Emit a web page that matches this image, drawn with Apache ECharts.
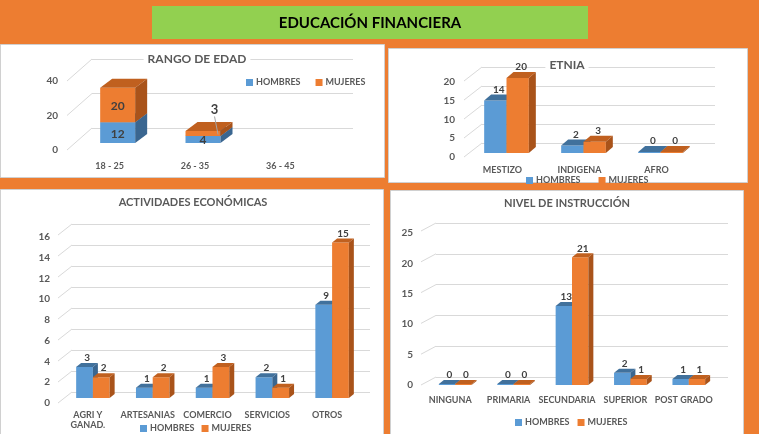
<!DOCTYPE html>
<html>
<head>
<meta charset="utf-8">
<title>Educación financiera</title>
<script src="https://cdn.jsdelivr.net/npm/echarts@6/dist/echarts.min.js"></script>
<style>
  html, body { margin: 0; padding: 0; background: #ED7D31; }
  #main { width: 759px; height: 434px; }
</style>
</head>
<body>
<div id="main"></div>
<script>
// datos de cada cuadro
var edadCats = ['18 - 25', '26 - 35', '36 - 45'];
var edadHombres = [12, 4, 0];
var edadMujeres = [20, 3, 0];
var edadTicks = [0, 20, 40];

var etniaCats = ['MESTIZO', 'INDIGENA', 'AFRO'];
var etniaHombres = [14, 2, 0];
var etniaMujeres = [20, 3, 0];
var etniaTicks = [0, 5, 10, 15, 20];

var actCats = ['AGRI Y\nGANAD.', 'ARTESANIAS', 'COMERCIO', 'SERVICIOS', 'OTROS'];
var actHombres = [3, 1, 1, 2, 9];
var actMujeres = [2, 2, 3, 1, 15];
var actTicks = [0, 2, 4, 6, 8, 10, 12, 14, 16];

var nivelCats = ['NINGUNA', 'PRIMARIA', 'SECUNDARIA', 'SUPERIOR', 'POST GRADO'];
var nivelHombres = [0, 0, 13, 2, 1];
var nivelMujeres = [0, 0, 21, 1, 1];
var nivelTicks = [0, 5, 10, 15, 20, 25];

var FONT = 'Lato, "Open Sans", sans-serif';
var GRIS = '#595959';
var COLORES = [
    { front: '#5B9BD5', top: '#41719C', side: '#3A6690' },
    { front: '#ED7D31', top: '#C0601F', side: '#A9531A' }
];

// posiciones y estilos de los cuatro cuadros
var panels = [
    {
        title: 'RANGO DE EDAD', cats: edadCats, h: edadHombres, m: edadMujeres, ticks: edadTicks, stacked: true,
        box: [0, 44, 384, 133], grid: { left: 67, top: 74, width: 256, height: 69 },
        wall: { left: 92, top: 59, width: 261, height: 69 },
        ly: 7, shift: 8, ratio: 0.41, depth: [12, 9], titlePos: [197, 59], titleSize: 12,
        legend: { left: 241, top: 73, gap: 15 }, catMargin: 18, labelMargin: 9
    },
    {
        title: 'ETNIA', cats: etniaCats, h: etniaHombres, m: etniaMujeres, ticks: etniaTicks, stacked: false,
        box: [388, 48, 359, 134], grid: { left: 464, top: 78, width: 231, height: 75 },
        wall: { left: 482, top: 67, width: 233, height: 76 },
        ly: 4, shift: 4, ratio: 0.29, depth: [7, 6], titlePos: [567, 65], titleSize: 12,
        legend: { left: 521, top: 171, gap: 18 }, catMargin: 12, labelMargin: 9
    },
    {
        title: 'ACTIVIDADES ECONÓMICAS', cats: actCats, h: actHombres, m: actMujeres, ticks: actTicks, stacked: false,
        box: [0, 189, 383, 245], grid: { left: 58, top: 232, width: 299, height: 166 },
        wall: { left: 72, top: 224, width: 298, height: 168 },
        ly: 5, shift: 5, ratio: 0.28, depth: [5, 4], titlePos: [193, 202], titleSize: 11,
        legend: { left: 135, top: 419, gap: 7 }, catMargin: 12, labelMargin: 8
    },
    {
        title: 'NIVEL DE INSTRUCCIÓN', cats: nivelCats, h: nivelHombres, m: nivelMujeres, ticks: nivelTicks, stacked: false,
        box: [390, 190, 353, 244], grid: { left: 421, top: 233, width: 292, height: 152 },
        wall: { left: 436, top: 223, width: 292, height: 154 },
        ly: 0, shift: 5, ratio: 0.28, depth: [5, 4], titlePos: [567, 203], titleSize: 11,
        legend: { left: 510, top: 413, gap: 8 }, catMargin: 10, labelMargin: 8
    }
];

function barRenderer(p, which) {
    return function (params, api) {
        var cat = api.value(0);
        var val = api.value(1);
        var base = (p.stacked && which === 1) ? api.value(2) : 0;
        if (p.stacked && val === 0 && base === 0) return;
        var b = api.coord([cat, base]);
        var t = api.coord([cat, base + val]);
        var band = api.size([1, 0])[0];
        var w = band * p.ratio;
        var x = b[0] + p.shift + (p.stacked ? -w / 2 : (which === 0 ? -w : 0));
        var dx = p.depth[0], dy = p.depth[1];
        var bot = b[1];
        var top = Math.min(t[1], bot - 1);
        var c = COLORES[which];
        var children = [
            { type: 'rect', shape: { x: x, y: top, width: w, height: bot - top }, style: { fill: c.front } },
            { type: 'polygon', shape: { points: [[x, top], [x + dx, top - dy], [x + w + dx, top - dy], [x + w, top]] }, style: { fill: c.top } },
            { type: 'polygon', shape: { points: [[x + w, top], [x + w + dx, top - dy], [x + w + dx, bot - dy], [x + w, bot]] }, style: { fill: c.side } }
        ];
        if (p.stacked) {
            var cy = (top + bot) / 2;
            if (which === 1 && bot - top < 12) {
                // etiqueta pequeña con línea guía
                children.push({ type: 'line', shape: { x1: x + w * 0.83, y1: cy - 17, x2: x + w * 0.93, y2: cy + 1 }, style: { stroke: '#A6A6A6', lineWidth: 1 } });
                children.push({ type: 'text', style: { text: String(val), x: x + w * 0.83, y: cy - 17, textAlign: 'center', textVerticalAlign: 'bottom', font: 'bold 13px ' + FONT, fill: '#404040' } });
            } else {
                children.push({ type: 'text', style: { text: String(val), x: x + w / 2, y: cy + 1, textAlign: 'center', textVerticalAlign: 'middle', font: 'bold 12px ' + FONT, fill: '#404040' } });
            }
        } else {
            children.push({ type: 'text', style: { text: String(val), x: x + w / 2 + dx / 2, y: top - dy, textAlign: 'center', textVerticalAlign: 'bottom', font: 'bold 10px ' + FONT, fill: '#404040' } });
        }
        return { type: 'group', children: children };
    };
}

function diagRenderer(p) {
    var ddx = p.wall.left - p.grid.left;
    var ddy = (p.grid.top + p.grid.height) - (p.wall.top + p.wall.height) + p.ly;
    return function (params, api) {
        var q = api.coord([0, api.value(0)]);
        return { type: 'line', shape: { x1: q[0], y1: q[1], x2: q[0] - ddx, y2: q[1] + ddy }, style: { stroke: '#D9D9D9', lineWidth: 1 } };
    };
}

var myChart = echarts.init(document.getElementById('main'));

var grids = [], xAxes = [], yAxes = [], series = [], legends = [], graphics = [];

// recuadro verde del título
graphics.push({ type: 'rect', z: -1, shape: { x: 152, y: 6, width: 436, height: 33 }, style: { fill: '#92D050' } });
graphics.push({ type: 'text', z: 10, style: { text: 'EDUCACIÓN FINANCIERA', x: 370, y: 23, textAlign: 'center', textVerticalAlign: 'middle', font: 'bold 15px ' + FONT, fill: '#000' } });

panels.forEach(function (p, i) {
    graphics.push({ type: 'rect', z: -1, shape: { x: p.box[0] + 0.5, y: p.box[1] + 0.5, width: p.box[2], height: p.box[3] }, style: { fill: '#fff', stroke: '#D0D0D0', lineWidth: 1 } });
    graphics.push({ type: 'text', z: 10, style: { text: p.title, x: p.titlePos[0], y: p.titlePos[1], textAlign: 'center', textVerticalAlign: 'middle', font: 'bold ' + p.titleSize + 'px ' + FONT, fill: GRIS, backgroundColor: '#fff', padding: [1, 4] } });

    var max = p.ticks[p.ticks.length - 1];
    var interval = p.ticks[1] - p.ticks[0];

    // rejilla de las barras
    grids.push({ left: p.grid.left, top: p.grid.top, width: p.grid.width, height: p.grid.height });
    xAxes.push({
        type: 'category', gridIndex: i, data: p.cats,
        axisLine: { show: false }, axisTick: { show: false },
        axisLabel: { margin: p.catMargin, fontFamily: FONT, fontWeight: 'bold', fontSize: 9, color: GRIS, lineHeight: 10, interval: 0 }
    });
    yAxes.push({
        type: 'value', gridIndex: i, min: p.ticks[0], max: max, interval: interval,
        splitLine: { show: false }, axisLine: { show: false }, axisTick: { show: false }, axisLabel: { show: false }
    });

    series.push({
        name: 'HOMBRES', type: 'custom', xAxisIndex: i, yAxisIndex: i, z: 3, clip: false,
        itemStyle: { color: COLORES[0].front },
        renderItem: barRenderer(p, 0),
        data: p.h.map(function (v, k) { return [k, v]; })
    });
    series.push({
        name: 'MUJERES', type: 'custom', xAxisIndex: i, yAxisIndex: i, z: 4, clip: false,
        itemStyle: { color: COLORES[1].front },
        renderItem: barRenderer(p, 1),
        data: p.m.map(function (v, k) { return [k, v, p.stacked ? p.h[k] : 0]; })
    });

    legends.push({
        data: ['HOMBRES', 'MUJERES'], left: p.legend.left, top: p.legend.top,
        icon: 'rect', itemWidth: 7, itemHeight: 7, itemGap: p.legend.gap, selectedMode: false,
        textStyle: { fontFamily: FONT, fontWeight: 'bold', fontSize: 9, color: GRIS, padding: [0, 0, 0, -2] }
    });
});

// pared del fondo con las líneas de guía
panels.forEach(function (p, i) {
    var max = p.ticks[p.ticks.length - 1];
    var interval = p.ticks[1] - p.ticks[0];
    grids.push({ left: p.wall.left, top: p.wall.top, width: p.wall.width, height: p.wall.height });
    xAxes.push({ type: 'value', gridIndex: 4 + i, min: 0, max: 1, show: false });
    yAxes.push({
        type: 'value', gridIndex: 4 + i, min: p.ticks[0], max: max, interval: interval,
        axisLine: { show: false }, axisTick: { show: false }, axisLabel: { show: false },
        splitLine: { show: true, lineStyle: { color: '#D9D9D9', width: 1 } }
    });
    series.push({
        type: 'custom', xAxisIndex: 4 + i, yAxisIndex: 4 + i, z: 1, clip: false, silent: true,
        renderItem: diagRenderer(p),
        data: p.ticks.map(function (v) { return [v]; })
    });
});

// eje de valores con sus etiquetas (desplazado un poco hacia abajo)
panels.forEach(function (p, i) {
    var max = p.ticks[p.ticks.length - 1];
    var interval = p.ticks[1] - p.ticks[0];
    grids.push({ left: p.grid.left, top: p.grid.top + p.ly, width: p.grid.width, height: p.grid.height });
    xAxes.push({ type: 'category', gridIndex: 8 + i, data: p.cats, show: false });
    yAxes.push({
        type: 'value', gridIndex: 8 + i, min: p.ticks[0], max: max, interval: interval,
        splitLine: { show: false }, axisLine: { show: false }, axisTick: { show: false },
        axisLabel: { margin: p.labelMargin, fontFamily: FONT, fontWeight: 'bold', fontSize: 10, color: GRIS }
    });
});

var option = {
    backgroundColor: '#ED7D31',
    animation: false,
    graphic: graphics,
    legend: legends,
    grid: grids,
    xAxis: xAxes,
    yAxis: yAxes,
    series: series
};

myChart.setOption(option);
</script>
</body>
</html>
